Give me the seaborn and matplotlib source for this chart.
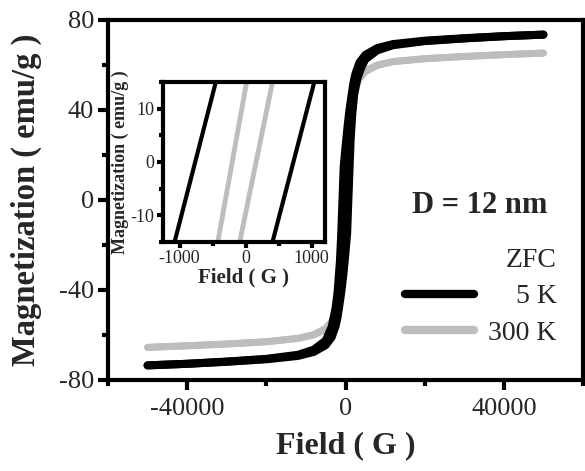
import matplotlib
matplotlib.use('Agg')
import numpy as np
import pandas as pd
import matplotlib.pyplot as plt
import seaborn as sns
from matplotlib.lines import Line2D
from matplotlib.ticker import MultipleLocator

# Ciclo de histerese, 5 K (ramo subindo e ramo descendo)
campo_5k_sobe = [-50000, -40000, -30000, -20000, -12000, -8000, -5000, -3500, -2500, -2000,
                 -1400, -1000, -600, -200, 406, 722, 1038, 1300, 1700, 2200, 3000, 4000, 5000,
                 8000, 12000, 20000, 30000, 40000, 50000]
mag_5k_sobe = [-73.5, -72.8, -71.9, -70.8, -69.3, -67.5, -64.5, -61.0, -56.0, -52.0,
               -45.0, -40.0, -34.0, -27.0, -15.0, 0.0, 15.0, 27.0, 38.0, 47.0, 54.0, 59.0, 62.5,
               66.5, 68.8, 70.6, 71.8, 72.8, 73.5]
campo_5k_desce = [50000, 40000, 30000, 20000, 12000, 8000, 5000, 3500, 2500, 2000,
                  1400, 1000, 600, 200, -451, -763, -1075, -1400, -2000, -2500, -3500, -5000,
                  -8000, -12000, -20000, -30000, -40000, -50000]
mag_5k_desce = [73.5, 72.8, 71.9, 70.8, 69.3, 67.5, 64.5, 61.0, 56.0, 52.0,
                45.0, 40.0, 34.0, 27.0, 15.0, 0.0, -15.0, -27.0, -41.0, -48.0, -56.5, -62.5,
                -66.5, -68.8, -70.6, -71.8, -72.8, -73.5]

# Ciclo de histerese, 300 K
campo_300k_sobe = [-50000, -40000, -30000, -20000, -12000, -8000, -5000, -3000, -2000, -1400,
                   -900, -500, -90, 158, 406, 700, 1100, 1600, 2500, 3500, 5000, 8000,
                   12000, 20000, 30000, 40000, 50000]
mag_300k_sobe = [-65.5, -64.8, -64.0, -63.0, -61.5, -59.8, -57.0, -53.0, -49.0, -44.0,
                 -37.0, -28.0, -15.0, 0.0, 15.0, 26.0, 36.0, 43.0, 50.0, 54.0, 57.5, 60.0,
                 61.5, 62.8, 63.8, 64.6, 65.3]
campo_300k_desce = [50000, 40000, 30000, 20000, 12000, 8000, 5000, 3000, 2000, 1400,
                    900, 500, 15, -203, -421, -700, -1100, -1600, -2500, -3500, -5000, -8000,
                    -12000, -20000, -30000, -40000, -50000]
mag_300k_desce = [65.3, 64.6, 63.8, 62.8, 61.5, 59.8, 57.0, 53.0, 49.0, 44.0,
                  37.0, 28.0, 15.0, 0.0, -15.0, -26.0, -36.0, -43.0, -50.0, -54.0, -57.5, -60.0,
                  -61.5, -63.0, -64.0, -64.8, -65.5]

temperaturas = ['5 K', '300 K']
cores = {'5 K': 'black', '300 K': '#bdbdbd'}


def monta_dataframe():
    """Junta os ramos num DataFrame longo"""
    partes = []
    for temp, ramo, campo, mag in [
        ('300 K', 'sobe', campo_300k_sobe, mag_300k_sobe),
        ('300 K', 'desce', campo_300k_desce, mag_300k_desce),
        ('5 K', 'sobe', campo_5k_sobe, mag_5k_sobe),
        ('5 K', 'desce', campo_5k_desce, mag_5k_desce),
    ]:
        partes.append(pd.DataFrame({'campo': campo, 'mag': mag, 'temp': temp, 'ramo': ramo}))
    return pd.concat(partes, ignore_index=True)


def desenha_ciclos(ax, df, larguras):
    # cinza primeiro, preto por cima
    for temp in ['300 K', '5 K']:
        sub = df[df['temp'] == temp]
        sns.lineplot(data=sub, x='campo', y='mag', units='ramo', estimator=None, sort=False,
                     color=cores[temp], linewidth=larguras[temp], ax=ax,
                     solid_capstyle='round', legend=False)


def estilo_eixo(ax, tam_ticks, comp_major, comp_minor):
    for s in ax.spines.values():
        s.set_visible(True)
        s.set_linewidth(3)
        s.set_color('black')
    ax.tick_params(which='both', direction='out', width=3, top=False, right=False,
                   labelsize=tam_ticks, color='black')
    ax.tick_params(which='major', length=comp_major)
    ax.tick_params(which='minor', length=comp_minor)


sns.set_style('ticks')
plt.rcParams['font.family'] = ['Liberation Serif', 'DejaVu Serif']
plt.rcParams['axes.unicode_minus'] = False

df = monta_dataframe()

fig = plt.figure(figsize=(5.85, 4.71), dpi=100)
ax = fig.add_axes([108 / 585, 1 - 380 / 471, 475 / 585, 360 / 471])

desenha_ciclos(ax, df, {'5 K': 5.8, '300 K': 5})
ax.set_xlim(-60000, 60000)
ax.set_ylim(-80, 80)
ax.xaxis.set_major_locator(MultipleLocator(40000))
ax.xaxis.set_minor_locator(MultipleLocator(20000))
ax.yaxis.set_major_locator(MultipleLocator(40))
ax.yaxis.set_minor_locator(MultipleLocator(20))
estilo_eixo(ax, 19, 7, 4)
ax.tick_params(axis='x', pad=6)
ax.tick_params(axis='y', pad=3)
ax.set_xlabel('Field ( G )', fontsize=23, fontweight='bold', labelpad=8)
ax.set_ylabel('Magnetization ( emu/g )', fontsize=23.5, fontweight='bold', labelpad=12)

ax.text(0.783, 0.486, 'D = 12 nm', transform=ax.transAxes, ha='center', va='center',
        fontsize=22, fontweight='bold')

handles = [Line2D([], [], color=cores[t], lw=6, solid_capstyle='round') for t in temperaturas]
leg = ax.legend(handles, ['    5 K', '300 K'], title='ZFC', loc='lower right',
                bbox_to_anchor=(0.998, 0.025), frameon=False, fontsize=20, title_fontsize=20,
                handlelength=2.5, handletextpad=0.5, labelspacing=0.4, alignment='right')

# Detalhe ampliado perto da origem
ax_in = fig.add_axes([163 / 585, 1 - 242 / 471, 162 / 585, 160 / 471])
desenha_ciclos(ax_in, df, {'5 K': 3, '300 K': 3.5})
ax_in.set_xlim(-1250, 1200)
ax_in.set_ylim(-15, 15)
ax_in.xaxis.set_major_locator(MultipleLocator(1000))
ax_in.xaxis.set_minor_locator(MultipleLocator(500))
ax_in.yaxis.set_major_locator(MultipleLocator(10))
ax_in.yaxis.set_minor_locator(MultipleLocator(5))
estilo_eixo(ax_in, 13, 4, 3)
ax_in.tick_params(pad=2)
ax_in.set_xlabel('Field ( G )', fontsize=15, fontweight='bold', labelpad=0)
ax_in.set_ylabel('Magnetization ( emu/g )', fontsize=13, fontweight='bold', labelpad=1)

fig.savefig('out.png', dpi=100)
